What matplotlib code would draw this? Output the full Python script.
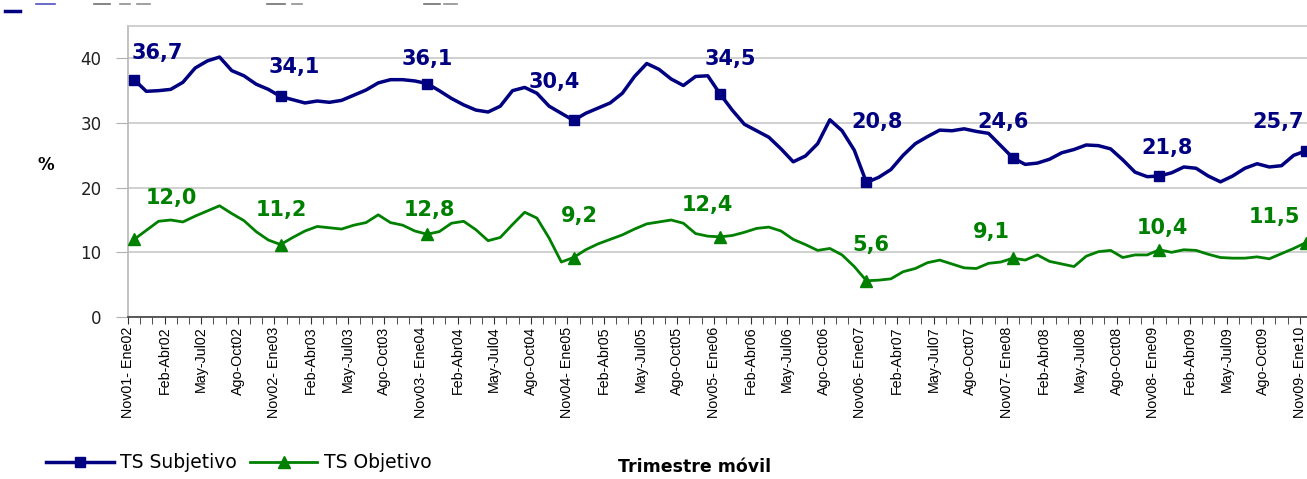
import numpy as np
import matplotlib.pyplot as plt
from matplotlib import font_manager
from matplotlib.lines import Line2D

# Tasa de subempleo por trimestre móvil (%), Nov01-Ene02 .. Nov09-Ene10
ts_subjetivo = [
    36.7, 34.9, 35.0, 35.2, 36.3, 38.5, 39.6, 40.2, 38.1, 37.3, 36.0, 35.2,
    34.1, 33.6, 33.1, 33.4, 33.2, 33.5, 34.3, 35.1, 36.2, 36.7, 36.7, 36.5,
    36.1, 35.0, 33.8, 32.8, 32.0, 31.7, 32.6, 35.0, 35.5, 34.6, 32.6, 31.5,
    30.4, 31.5, 32.3, 33.1, 34.6, 37.2, 39.2, 38.3, 36.8, 35.8, 37.2, 37.3,
    34.5, 32.0, 29.8, 28.8, 27.8, 26.0, 24.0, 24.9, 26.8, 30.5, 28.8, 25.8,
    20.8, 21.6, 22.8, 25.0, 26.8, 27.9, 28.9, 28.8, 29.1, 28.7, 28.4, 26.5,
    24.6, 23.6, 23.8, 24.4, 25.4, 25.9, 26.6, 26.5, 26.0, 24.3, 22.4, 21.7,
    21.8, 22.3, 23.2, 23.0, 21.8, 20.9, 21.8, 23.0, 23.7, 23.2, 23.4, 25.0,
    25.7,
]
ts_objetivo = [
    12.0, 13.4, 14.8, 15.0, 14.7, 15.6, 16.4, 17.2, 16.0, 14.9, 13.2, 11.9,
    11.2, 12.3, 13.3, 14.0, 13.8, 13.6, 14.2, 14.6, 15.8, 14.6, 14.2, 13.3,
    12.8, 13.2, 14.5, 14.8, 13.5, 11.8, 12.3, 14.3, 16.2, 15.3, 12.2, 8.5,
    9.2, 10.4, 11.3, 12.0, 12.7, 13.6, 14.4, 14.7, 15.0, 14.5, 12.9, 12.5,
    12.4, 12.6, 13.1, 13.7, 13.9, 13.3, 12.0, 11.2, 10.3, 10.6, 9.6, 7.8,
    5.6, 5.7, 5.9, 7.0, 7.5, 8.4, 8.8, 8.2, 7.6, 7.5, 8.3, 8.5,
    9.1, 8.8, 9.6, 8.6, 8.2, 7.8, 9.4, 10.1, 10.3, 9.2, 9.6, 9.6,
    10.4, 10.0, 10.4, 10.3, 9.7, 9.2, 9.1, 9.1, 9.3, 9.0, 9.8, 10.6,
    11.5,
]
etiquetas = [
    "Nov01- Ene02", "Feb-Abr02", "May-Jul02", "Ago-Oct02",
    "Nov02- Ene03", "Feb-Abr03", "May-Jul03", "Ago-Oct03",
    "Nov03- Ene04", "Feb-Abr04", "May-Jul04", "Ago-Oct04",
    "Nov04- Ene05", "Feb-Abr05", "May-Jul05", "Ago-Oct05",
    "Nov05- Ene06", "Feb-Abr06", "May-Jul06", "Ago-Oct06",
    "Nov06- Ene07", "Feb-Abr07", "May-Jul07", "Ago-Oct07",
    "Nov07- Ene08", "Feb-Abr08", "May-Jul08", "Ago-Oct08",
    "Nov08- Ene09", "Feb-Abr09", "May-Jul09", "Ago-Oct09",
    "Nov09- Ene10",
]

# desplazamiento de las etiquetas de valor (px) respecto a cada marcador
desp_subj = [(23, 27), (14, 29), (0, 25), (-19, 38), (10, 35),
             (11, 60), (-10, 36), (8, 28), (-28, 29)]
desp_obj = [(37, 41), (1, 35), (2, 24), (6, 42), (-13, 32),
            (4, 36), (-22, 26), (3, 22), (-31, 26)]

AZUL = "#000080"
VERDE = "#008000"
W, H = 1307, 479

nombres = {f.name for f in font_manager.fontManager.ttflist}
if "Liberation Sans Narrow" in nombres:
    fuente_ticks, talla_ticks = "Liberation Sans Narrow", 12.5
else:
    fuente_ticks, talla_ticks = "Liberation Sans", 10.3
plt.rcParams["font.family"] = ["DejaVu Sans"]

fig = plt.figure(figsize=(W / 100, H / 100), dpi=100)
ax = fig.add_axes([128 / W, 162 / H, 1184 / W, 291 / H])

x = np.arange(len(ts_subjetivo))
l1, = ax.plot(x, ts_subjetivo, color=AZUL, lw=2.5, marker="s", ms=7,
              markevery=12, label="TS Subjetivo", zorder=3)
l2, = ax.plot(x, ts_objetivo, color=VERDE, lw=2.0, marker="^", ms=8,
              markevery=12, label="TS Objetivo", zorder=3)

for k, i in enumerate(range(0, len(x), 12)):
    dx, dy = desp_subj[k]
    ax.annotate(f"{ts_subjetivo[i]:.1f}".replace(".", ","), (i, ts_subjetivo[i]),
                xytext=(dx * 0.72, dy * 0.72), textcoords="offset points",
                ha="center", va="center", color=AZUL, fontsize=15,
                fontweight="bold", annotation_clip=False)
    dx, dy = desp_obj[k]
    ax.annotate(f"{ts_objetivo[i]:.1f}".replace(".", ","), (i, ts_objetivo[i]),
                xytext=(dx * 0.72, dy * 0.72), textcoords="offset points",
                ha="center", va="center", color=VERDE, fontsize=15,
                fontweight="bold", annotation_clip=False)

ax.set_xlim(-0.5, 96.5)
ax.set_ylim(0, 45)
ax.set_yticks([0, 10, 20, 30, 40])
ax.yaxis.grid(True, color="#c8c8c8", lw=1.2)
ax.set_axisbelow(True)

ax.set_xticks(np.arange(0, len(x), 3) - 0.5)
ax.set_xticklabels(etiquetas, rotation=90, ha="center", va="top",
                   fontfamily=fuente_ticks, fontsize=talla_ticks)
ax.set_xticks(np.arange(len(x)) - 0.5, minor=True)
ax.tick_params(axis="x", which="both", direction="out", length=5,
               color="#303030", pad=2)
ax.tick_params(axis="y", length=9, color="#b0b0b0", labelsize=12, pad=10,
               labelcolor="#202020")

ax.spines["bottom"].set_color("#404040")
ax.spines["left"].set_color("#b8b8b8")
ax.spines["top"].set_color("#c8c8c8")
ax.spines["right"].set_visible(False)
for s in ("bottom", "left", "top"):
    ax.spines[s].set_linewidth(1.2)

fig.text(46 / W, 1 - 165 / H, "%", fontsize=12, fontweight="bold",
         ha="center", va="center")
fig.text(695 / W, 1 - 467 / H, "Trimestre móvil", fontsize=12.5,
         fontweight="bold", ha="center", va="center")

fig.legend(handles=[l1, l2], loc="center left",
           bbox_to_anchor=(46 / W, 1 - 463 / H), ncol=2, frameon=False,
           fontsize=13.5, handlelength=3.6, handletextpad=0.35,
           columnspacing=0.7, borderaxespad=0, borderpad=0)

# restos de la leyenda superior, recortada en el borde
for x0, x1, c, y in [(5, 20, AZUL, 11), (36, 55, "#5050c0", 4),
                     (94, 110, "#707070", 4), (120, 130, "#909090", 4),
                     (137, 150, "#909090", 4), (267, 285, "#707070", 4),
                     (292, 302, "#909090", 4), (424, 440, "#707070", 4),
                     (444, 457, "#909090", 4)]:
    fig.add_artist(Line2D([x0 / W, x1 / W], [1 - y / H, 1 - y / H],
                          transform=fig.transFigure, color=c,
                          lw=2.5 if c == AZUL else 1.2))

fig.savefig("out.png", dpi=100)
